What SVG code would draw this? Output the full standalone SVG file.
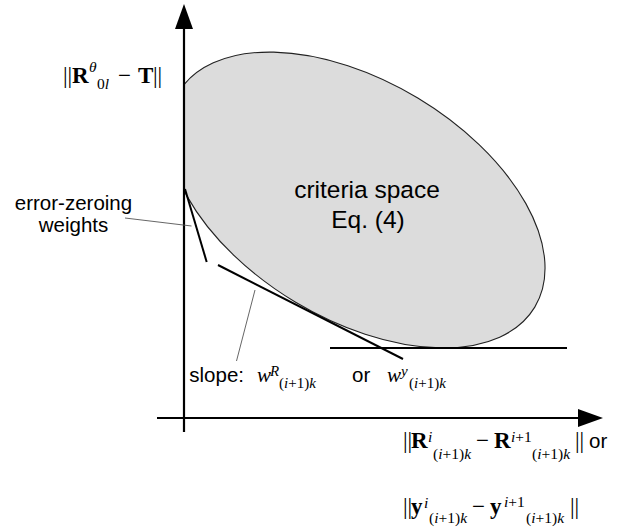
<svg xmlns="http://www.w3.org/2000/svg" width="644" height="529" viewBox="0 0 644 529">
<style>
.sans{font-family:"Liberation Sans",Arial,sans-serif;fill:#000}
.serif{font-family:"Liberation Serif","Times New Roman",serif;fill:#000}
.b{font-weight:bold}
.i{font-style:italic}
.axis{stroke:#000;stroke-width:2.2;fill:none}
.tan{stroke:#000;stroke-width:2;fill:none}
.lead{stroke:#555;stroke-width:0.9;fill:none}
</style>
<defs>
<marker id="arr" markerUnits="userSpaceOnUse" markerWidth="25" markerHeight="18" refX="0" refY="9" orient="auto">
<path d="M0,0 L25,9 L0,18 z" fill="#000"/>
</marker>
<clipPath id="clipR" clipPathUnits="userSpaceOnUse"><rect x="184" y="0" width="460" height="529"/></clipPath>
</defs>
<rect width="644" height="529" fill="#fff"/>

<g id="criteria-space">
<g clip-path="url(#clipR)">
<ellipse cx="356.5" cy="200" rx="208" ry="119" transform="rotate(31 356.5 200)" fill="#dcdcdc" stroke="#222" stroke-width="1.1"/>
</g>
<text class="sans" x="367" y="198" font-size="24.5" text-anchor="middle">criteria space</text>
<text class="sans" x="368" y="228" font-size="24.5" text-anchor="middle">Eq. (4)</text>
</g>

<g id="connectors">
<line class="axis" x1="184" y1="432" x2="184" y2="29" marker-end="url(#arr)"/>
<line class="axis" x1="157" y1="418" x2="578" y2="418" marker-end="url(#arr)"/>
<line class="tan" x1="330" y1="348" x2="567" y2="348"/>
<line class="tan" x1="218" y1="265" x2="403" y2="359"/>
<line class="tan" x1="185" y1="189" x2="206.7" y2="262"/>
<line class="lead" x1="125" y1="218" x2="191.5" y2="226"/>
<line class="lead" x1="255" y1="290" x2="236.5" y2="361"/>
</g>

<g id="y-label">
<text class="serif" y="83" font-size="23"><tspan x="63">||</tspan><tspan x="72" class="b">R</tspan><tspan x="89" y="72" font-size="15.5" class="i">θ</tspan><tspan x="97" y="89" font-size="15.5">0<tspan class="i">l</tspan></tspan><tspan x="118" y="83">−</tspan><tspan x="138" class="b">T</tspan><tspan x="153">||</tspan></text>
</g>

<g id="error-zeroing">
<text class="sans" x="73.5" y="210" font-size="20.5" text-anchor="middle">error-zeroing</text>
<text class="sans" x="73.5" y="232" font-size="20.5" text-anchor="middle">weights</text>
</g>

<g id="slope-label">
<text class="sans" x="189.3" y="382" font-size="20.5">slope:</text>
<text class="serif" y="382" font-size="21"><tspan x="257" class="i">w</tspan><tspan x="270" y="376" font-size="15" class="i">R</tspan><tspan x="279" y="388" font-size="15">(<tspan class="i">i</tspan>+1)<tspan class="i">k</tspan></tspan></text>
<text class="sans" x="352" y="382" font-size="20.5">or</text>
<text class="serif" y="382" font-size="21"><tspan x="387" class="i">w</tspan><tspan x="401" y="376" font-size="15" class="i">y</tspan><tspan x="409" y="388" font-size="15">(<tspan class="i">i</tspan>+1)<tspan class="i">k</tspan></tspan></text>
</g>

<g id="x-label">
<text class="serif" y="448" font-size="23"><tspan x="403">||</tspan><tspan x="411" class="b">R</tspan><tspan x="428" y="442" font-size="15.5" class="i">i</tspan><tspan x="433" y="459" font-size="15.5">(<tspan class="i">i</tspan>+1)<tspan class="i">k</tspan></tspan><tspan x="476" y="448">−</tspan><tspan x="494" class="b">R</tspan><tspan x="511" y="442" font-size="15.5"><tspan class="i">i</tspan>+1</tspan><tspan x="532" y="459" font-size="15.5">(<tspan class="i">i</tspan>+1)<tspan class="i">k</tspan></tspan><tspan x="575" y="448">||</tspan></text>
<text class="sans" x="589" y="448" font-size="20.5">or</text>
<text class="serif" y="514" font-size="23"><tspan x="403">||</tspan><tspan x="411" class="b">y</tspan><tspan x="424" y="508" font-size="15.5" class="i">i</tspan><tspan x="429" y="523" font-size="15.5">(<tspan class="i">i</tspan>+1)<tspan class="i">k</tspan></tspan><tspan x="472" y="514">−</tspan><tspan x="490" class="b">y</tspan><tspan x="504" y="507" font-size="15.5"><tspan class="i">i</tspan>+1</tspan><tspan x="526" y="523" font-size="15.5">(<tspan class="i">i</tspan>+1)<tspan class="i">k</tspan></tspan><tspan x="570" y="514">||</tspan></text>
</g>
</svg>
